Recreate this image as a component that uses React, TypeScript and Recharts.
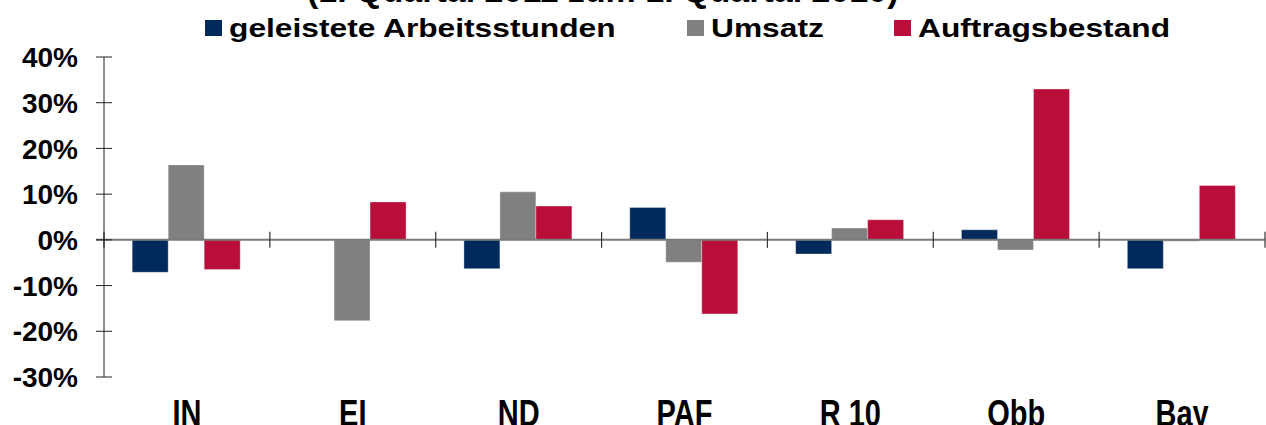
import React from "react";
import { BarChart, Bar, XAxis, YAxis, ReferenceLine, Legend } from "recharts";

const regions = ["IN", "EI", "ND", "PAF", "R 10", "Obb", "Bay"];
const hours = [-7.1, 0, -6.3, 7.1, -3.1, 2.2, -6.3];
const sales = [16.4, -17.7, 10.5, -4.9, 2.6, -2.2, -0.3];
const orders = [-6.5, 8.3, 7.4, -16.2, 4.4, 33.0, 11.9];
const yTicks = [-30, -20, -10, 0, 10, 20, 30, 40];
const seriesKeys = ["hours", "sales", "orders"];
const seriesNames = ["geleistete Arbeitsstunden", "Umsatz", "Auftragsbestand"];
const seriesColors = ["#002a5c", "#808080", "#b90d3a"];
const title = "(1. Quartal 2011 zum 1. Quartal 2010)";

const FONT = '"Liberation Sans", Arial, sans-serif';
// legend item left edges (swatch start)
const legendLefts = [205, 687, 894];

const data = regions.map((region, i) => ({
  region,
  hours: hours[i],
  sales: sales[i],
  orders: orders[i],
}));

// y tick: label plus a tick mark crossing the axis line
const YTick = ({ x, y, payload }: any) => (
  <g>
    <line x1={x + 18} x2={x + 34} y1={y} y2={y} stroke="#222" strokeWidth={1} />
    <text x={x} y={y} dy="0.36em" textAnchor="end" fontFamily={FONT} fontWeight={700} fontSize={28} fill="#000">
      {payload.value}%
    </text>
  </g>
);

// category labels are drawn a bit taller than wide in the original
const XTick = ({ x, y, payload }: any) => (
  <g transform={`translate(${x},${y}) scale(1,1.25)`}>
    <text x={0} y={0} dy="0.716em" textAnchor="middle" fontFamily={FONT} fontWeight={700} fontSize={29} fill="#000">
      {payload.value}
    </text>
  </g>
);

// zero line with the category boundary ticks on it
const ZeroLine = ({ x1, x2, y1 }: any) => {
  const n = regions.length;
  const step = (x2 - x1) / n;
  return (
    <g>
      <line x1={x1 - 8} x2={x2} y1={y1} y2={y1} stroke="#7a7a7a" strokeWidth={2} />
      {Array.from({ length: n + 1 }, (_, i) => (
        <line key={i} x1={x1 + i * step} x2={x1 + i * step} y1={y1 - 8} y2={y1 + 8} stroke="#333" strokeWidth={1.2} />
      ))}
    </g>
  );
};

const renderLegend = () => (
  <div style={{ position: "relative", height: 57 }}>
    {seriesNames.map((name, i) => (
      <div key={name} style={{ position: "absolute", left: legendLefts[i], top: 0 }}>
        <span
          style={{ position: "absolute", left: 0, top: 20, width: 17, height: 16, background: seriesColors[i] }}
        />
        <span
          style={{
            position: "absolute",
            left: 24,
            top: 13,
            fontFamily: FONT,
            fontWeight: 700,
            fontSize: 26,
            lineHeight: "30px",
            color: "#000",
            whiteSpace: "nowrap",
            transform: "scaleX(1.22)",
            transformOrigin: "left top",
          }}
        >
          {name}
        </span>
      </div>
    ))}
  </div>
);

export default function App() {
  return (
    <div style={{ position: "relative", width: 1266, height: 425, overflow: "hidden", background: "#fff" }}>
      <style>{`body{margin:0}`}</style>
      <div
        style={{
          position: "absolute",
          left: 307,
          top: -30,
          fontFamily: FONT,
          fontWeight: 700,
          fontSize: 34,
          lineHeight: "40px",
          whiteSpace: "nowrap",
          color: "#000",
        }}
      >
        {title}
      </div>
      <BarChart
        width={1266}
        height={425}
        data={data}
        margin={{ top: 0, right: 1, bottom: 0, left: 0 }}
        barCategoryGap="17%"
        barGap={0}
      >
        <Legend verticalAlign="top" align="left" content={renderLegend} />
        <XAxis
          dataKey="region"
          axisLine={false}
          tickLine={false}
          tickSize={0}
          tickMargin={23}
          height={48}
          interval={0}
          tick={<XTick />}
        />
        <YAxis
          domain={[-30, 40]}
          ticks={yTicks}
          width={104}
          axisLine={{ stroke: "#222", strokeWidth: 1 }}
          tickLine={false}
          tickSize={8}
          tickMargin={18}
          tick={<YTick />}
          interval={0}
        />
        {seriesKeys.map((key, i) => (
          <Bar
            key={key}
            dataKey={key}
            name={seriesNames[i]}
            fill={seriesColors[i]}
            stroke="#ffffff"
            strokeOpacity={0.35}
            strokeWidth={1}
            isAnimationActive={false}
          />
        ))}
        <ReferenceLine y={0} shape={ZeroLine} />
      </BarChart>
    </div>
  );
}
